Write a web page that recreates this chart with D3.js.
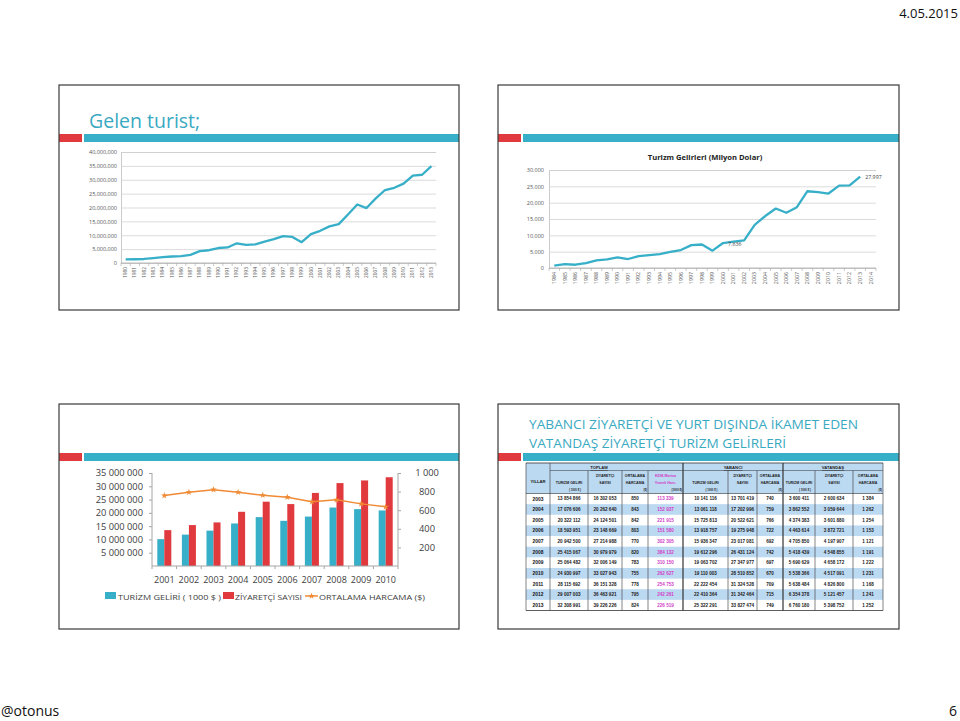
<!DOCTYPE html>
<meta charset="utf-8" />
<head>
  <style>
    body { margin: 0; background: #fff; }
    svg { display: block; font-family: "Open Sans", sans-serif; }
  </style>
  <script src="https://d3js.org/d3.v7.min.js"></script>
</head>
<body>
<svg width="960" height="721"></svg>
<script>
// ---------- data ----------
// gelen turist (kisi)
const gelenYil = ["1980","1981","1982","1983","1984","1985","1986","1987","1988","1989",
  "1990","1991","1992","1993","1994","1995","1996","1997","1998","1999",
  "2000","2001","2002","2003","2004","2005","2006","2007","2008","2009",
  "2010","2011","2012","2013"];
const gelenTurist = [1300000,1350000,1450000,1750000,2100000,2350000,2500000,2950000,4300000,4600000,
  5400000,5600000,7100000,6500000,6700000,7700000,8600000,9700000,9400000,7500000,
  10400000,11600000,13200000,14000000,17500000,21100000,19800000,23300000,26300000,27100000,
  28600000,31500000,31800000,34900000];
const gelenTicks = [0,5000000,10000000,15000000,20000000,25000000,30000000,35000000,40000000];

// turizm gelirleri (milyon dolar)
const gelirYil = ["1984","1985","1986","1987","1988","1989","1990","1991","1992","1993",
  "1994","1995","1996","1997","1998","1999","2000","2001","2002","2003",
  "2004","2005","2006","2007","2008","2009","2010","2011","2012","2013","2014"];
const gelirMilyon = [700,1200,1000,1500,2350,2650,3250,2750,3650,3950,
  4250,4900,5500,7000,7200,5300,7636,8050,8450,13200,
  15900,18200,16900,18600,23500,23200,22800,25200,25300,27997,null];
const gelirTicks = [0,5000,10000,15000,20000,25000,30000];
const gelirEtiket = ["2000","2013"];

// 2001-2010 bar + line
const barYil = ["2001","2002","2003","2004","2005","2006","2007","2008","2009","2010"];
const barGelir = [10100000,11800000,13300000,16000000,18400000,17000000,18600000,22000000,21400000,20900000];
const barZiyaretci = [13500000,15400000,16400000,20400000,24200000,23300000,27500000,31200000,32200000,33400000];
const barHarcama = [757,793,821,793,761,740,690,711,668,636];
const barSolTicks = [5000000,10000000,15000000,20000000,25000000,30000000,35000000];
const barSagTicks = [200,400,600,800,1000];
const barSeri = ["TURİZM GELİRİ ( 1000 $ )","ZİYARETÇİ SAYISI","ORTALAMA HARCAMA ($)"];

// tablo
const tabloYil = ["2003","2004","2005","2006","2007","2008","2009","2010","2011","2012","2013"];
const toplamGelir = [13854866,17076606,20322112,18593951,20942500,25415067,25064482,24930997,28115692,29007003,32308991];
const toplamZiyaretci = [16302053,20262640,24124501,23148669,27214988,30979979,32006149,33027943,36151328,36463921,39226226];
const toplamHarcama = [850,843,842,803,770,820,783,755,778,795,824];
const marinaHarcama = [113339,152937,221915,151580,302305,384132,310150,262627,254753,242261,226519];
const yabanciGelir = [10141116,13061118,15725813,13918757,15936347,19612296,19063702,19110003,22222454,22410364,25322291];
const yabanciZiyaretci = [13701419,17202996,20522621,19275948,23017081,26431124,27347977,28510852,31324528,31342464,33827474];
const yabanciHarcama = [740,759,766,722,692,742,697,670,709,715,749];
const vatandasGelir = [3600411,3862552,4374383,4463614,4705850,5418439,5690629,5538366,5638484,6354378,6760180];
const vatandasZiyaretci = [2600634,3059644,3601880,3872721,4197907,4548855,4658172,4517091,4826800,5121457,5398752];
const vatandasHarcama = [1384,1262,1254,1153,1121,1191,1222,1231,1168,1241,1252];
const tabloGruplar = ["TOPLAM","YABANCI","VATANDAŞ"];

// ---------- helpers ----------
const RED = "#e0393e", TEAL = "#37afc8", TITLE = "#3aa9c2", ORANGE = "#f08a34";
const dotFmt = d3.formatLocale({decimal: ",", thousands: ".", grouping: [3], currency: ["", ""]}).format(",");
const spFmt = d3.formatLocale({decimal: ",", thousands: " ", grouping: [3], currency: ["", ""]}).format(",");
const comFmt = d3.format(",");

const svg = d3.select("svg");
svg.append("rect").attr("width", 960).attr("height", 721).attr("fill", "#fff");

// page texts
svg.append("text").attr("x", 958).attr("y", 18).attr("text-anchor", "end")
  .attr("font-size", 13).attr("fill", "#111").text("4.05.2015");
svg.append("text").attr("x", 1).attr("y", 716)
  .attr("font-size", 14).attr("fill", "#111").text("@otonus");
svg.append("text").attr("x", 957).attr("y", 716).attr("text-anchor", "end")
  .attr("font-size", 14).attr("fill", "#111").text("6");

// slides
const slides = [
  {x: 59, y: 85, w: 400, h: 225},
  {x: 498, y: 85, w: 401, h: 225},
  {x: 59, y: 404, w: 400, h: 225},
  {x: 498, y: 404, w: 401, h: 225}
];
slides.forEach(function (s) {
  svg.append("rect").attr("x", s.x).attr("y", s.y + 49).attr("width", 23).attr("height", 8).attr("fill", RED);
  svg.append("rect").attr("x", s.x + 25).attr("y", s.y + 49).attr("width", s.w - 25).attr("height", 8).attr("fill", TEAL);
  svg.append("rect").attr("x", s.x).attr("y", s.y).attr("width", s.w).attr("height", s.h)
    .attr("fill", "none").attr("stroke", "#3a3a3a").attr("stroke-width", 1.2);
});

svg.append("text").attr("x", 89).attr("y", 128).attr("font-size", 19.5)
  .attr("fill", TITLE).text("Gelen turist;");

// ---------- chart 1: gelen turist ----------
{
  const x = d3.scaleBand().domain(gelenYil).range([121, 436]);
  const y = d3.scaleLinear().domain([0, 40000000]).range([263, 152]);
  const g = svg.append("g");

  const ya = g.append("g").attr("transform", "translate(121,0)")
    .call(d3.axisLeft(y).tickValues(gelenTicks).tickSize(-315).tickPadding(4).tickFormat(comFmt));
  ya.select(".domain").attr("stroke", "#bdbdbd").attr("stroke-width", 0.8);
  ya.selectAll(".tick line").attr("stroke", "#d2d2d2").attr("stroke-width", 0.8);
  ya.selectAll("text").attr("font-size", 5.5).attr("font-family", "Open Sans").attr("fill", "#555");

  g.append("line").attr("x1", 121).attr("x2", 436).attr("y1", 263).attr("y2", 263)
    .attr("stroke", "#a8a8a8").attr("stroke-width", 0.8);
  g.selectAll("line.tk").data(gelenYil.concat(["end"])).join("line")
    .attr("x1", (d, i) => 121 + i * x.step()).attr("x2", (d, i) => 121 + i * x.step())
    .attr("y1", 263).attr("y2", 266).attr("stroke", "#a8a8a8").attr("stroke-width", 0.6);
  g.selectAll("text.xl").data(gelenYil).join("text")
    .attr("transform", d => "translate(" + (x(d) + x.bandwidth() / 2 + 1.6) + ",267) rotate(-90)")
    .attr("text-anchor", "end").attr("font-size", 4.8).attr("fill", "#555").text(d => d);

  const line = d3.line().x((d, i) => x(gelenYil[i]) + x.bandwidth() / 2).y(d => y(d));
  g.append("path").datum(gelenTurist).attr("d", line).attr("fill", "none")
    .attr("stroke", TEAL).attr("stroke-width", 2.3).attr("stroke-linejoin", "round");
}

// ---------- chart 2: turizm gelirleri ----------
{
  const x = d3.scaleBand().domain(gelirYil).range([549, 876]);
  const y = d3.scaleLinear().domain([0, 30000]).range([268, 170]);
  const g = svg.append("g");

  g.append("text").attr("x", 705).attr("y", 160).attr("text-anchor", "middle")
    .attr("font-size", 7.6).attr("font-weight", "bold").attr("fill", "#222")
    .text("Turizm Gelirleri (Milyon Dolar)");

  const ya = g.append("g").attr("transform", "translate(549,0)")
    .call(d3.axisLeft(y).tickValues(gelirTicks).tickSize(-327).tickPadding(5).tickFormat(dotFmt));
  ya.select(".domain").attr("stroke", "#bdbdbd").attr("stroke-width", 0.8);
  ya.selectAll(".tick line").attr("stroke", "#d2d2d2").attr("stroke-width", 0.8);
  ya.selectAll("text").attr("font-size", 5.5).attr("font-family", "Open Sans").attr("fill", "#555");

  g.append("line").attr("x1", 549).attr("x2", 876).attr("y1", 268).attr("y2", 268)
    .attr("stroke", "#a8a8a8").attr("stroke-width", 0.8);
  g.selectAll("line.tk").data(gelirYil.concat(["end"])).join("line")
    .attr("x1", (d, i) => 549 + i * x.step()).attr("x2", (d, i) => 549 + i * x.step())
    .attr("y1", 268).attr("y2", 271).attr("stroke", "#a8a8a8").attr("stroke-width", 0.6);
  g.selectAll("text.xl").data(gelirYil).join("text")
    .attr("transform", d => "translate(" + (x(d) + x.bandwidth() / 2 + 1.8) + ",272) rotate(-90)")
    .attr("text-anchor", "end").attr("font-size", 5.3).attr("fill", "#555").text(d => d);

  const pts = gelirMilyon.map((v, i) => ({yil: gelirYil[i], v: v}));
  const line = d3.line().defined(d => d.v != null)
    .x(d => x(d.yil) + x.bandwidth() / 2).y(d => y(d.v));
  g.append("path").datum(pts).attr("d", line).attr("fill", "none")
    .attr("stroke", TEAL).attr("stroke-width", 2.3).attr("stroke-linejoin", "round");

  g.selectAll("text.val").data(pts.filter(d => gelirEtiket.includes(d.yil))).join("text")
    .attr("x", d => x(d.yil) + x.bandwidth() / 2 + 5)
    .attr("y", d => y(d.v) + 2.5)
    .attr("font-size", 5.3).attr("fill", "#444").text(d => dotFmt(d.v));
}

// ---------- chart 3: 2001-2010 bars ----------
{
  const x = d3.scaleBand().domain(barYil).range([152, 398]).paddingInner(0.43).paddingOuter(0.215);
  const xi = d3.scaleBand().domain(["gelir", "ziyaretci"]).range([0, x.bandwidth()]);
  const yL = d3.scaleLinear().domain([0, 35000000]).range([566, 473]);
  const yR = d3.scaleLinear().domain([0, 1000]).range([566, 473]);
  const g = svg.append("g");

  // bars
  const rows = barYil.map((yil, i) => ({yil: yil, gelir: barGelir[i], ziyaretci: barZiyaretci[i]}));
  const grp = g.selectAll("g.yr").data(rows).join("g").attr("transform", d => "translate(" + x(d.yil) + ",0)");
  grp.append("rect").attr("x", xi("gelir")).attr("width", xi.bandwidth())
    .attr("y", d => yL(d.gelir)).attr("height", d => 566 - yL(d.gelir)).attr("fill", TEAL);
  grp.append("rect").attr("x", xi("ziyaretci")).attr("width", xi.bandwidth())
    .attr("y", d => yL(d.ziyaretci)).attr("height", d => 566 - yL(d.ziyaretci)).attr("fill", RED);

  // axes
  const al = g.append("g").attr("transform", "translate(152,0)")
    .call(d3.axisLeft(yL).tickValues(barSolTicks).tickSize(3).tickPadding(6).tickFormat(spFmt));
  const ar = g.append("g").attr("transform", "translate(398,0)")
    .call(d3.axisRight(yR).tickValues(barSagTicks).tickSize(3).tickPadding(0).tickFormat(spFmt));
  [al, ar].forEach(function (a) {
    a.select(".domain").attr("stroke", "#a6a6a6").attr("d", "M0,473V566");
    a.selectAll(".tick line").attr("stroke", "#a6a6a6");
    a.selectAll("text").attr("font-size", 9.3).attr("font-family", "Open Sans").attr("fill", "#404040");
  });
  ar.selectAll("text").attr("x", 29).attr("text-anchor", "middle");

  g.append("line").attr("x1", 152).attr("x2", 398).attr("y1", 566).attr("y2", 566).attr("stroke", "#a6a6a6");
  g.selectAll("line.tk").data(barYil.concat(["end"])).join("line")
    .attr("x1", (d, i) => 152 + i * x.step()).attr("x2", (d, i) => 152 + i * x.step())
    .attr("y1", 566).attr("y2", 569).attr("stroke", "#a6a6a6");
  g.selectAll("text.xl").data(barYil).join("text")
    .attr("x", d => x(d) + x.bandwidth() / 2).attr("y", 582.5)
    .attr("text-anchor", "middle").attr("font-size", 9).attr("fill", "#404040").text(d => d);

  // line
  const line = d3.line().x((d, i) => x(barYil[i]) + x.bandwidth() / 2).y(d => yR(d));
  g.append("path").datum(barHarcama).attr("d", line).attr("fill", "none")
    .attr("stroke", ORANGE).attr("stroke-width", 1.5);
  g.selectAll("path.mk").data(barHarcama).join("path")
    .attr("transform", (d, i) => "translate(" + (x(barYil[i]) + x.bandwidth() / 2) + "," + yR(d) + ")")
    .attr("d", d3.symbol(d3.symbolStar, 14)).attr("fill", ORANGE);

  // legend
  const lg = g.append("g").attr("font-size", 8).attr("fill", "#404040");
  lg.append("rect").attr("x", 105).attr("y", 592).attr("width", 11).attr("height", 7).attr("fill", TEAL);
  lg.append("text").attr("x", 118).attr("y", 599.5).attr("textLength", 103)
    .attr("lengthAdjust", "spacingAndGlyphs").text(barSeri[0]);
  lg.append("rect").attr("x", 223).attr("y", 592).attr("width", 11).attr("height", 7).attr("fill", RED);
  lg.append("text").attr("x", 235).attr("y", 599.5).attr("textLength", 67)
    .attr("lengthAdjust", "spacingAndGlyphs").text(barSeri[1]);
  lg.append("line").attr("x1", 305).attr("x2", 318).attr("y1", 596).attr("y2", 596)
    .attr("stroke", ORANGE).attr("stroke-width", 1.5);
  lg.append("path").attr("transform", "translate(311.5,596)").attr("d", d3.symbol(d3.symbolStar, 14)).attr("fill", ORANGE);
  lg.append("text").attr("x", 319).attr("y", 599.5).attr("textLength", 106)
    .attr("lengthAdjust", "spacingAndGlyphs").text(barSeri[2]);
}

// ---------- slide 4: table ----------
{
  svg.append("text").attr("x", 529).attr("y", 429).attr("font-size", 13).attr("fill", TITLE)
    .attr("textLength", 329).attr("lengthAdjust", "spacingAndGlyphs")
    .text("YABANCI ZİYARETÇİ VE YURT DIŞINDA İKAMET EDEN");
  svg.append("text").attr("x", 529).attr("y", 448).attr("font-size", 13).attr("fill", TITLE)
    .attr("textLength", 257).attr("lengthAdjust", "spacingAndGlyphs")
    .text("VATANDAŞ ZİYARETÇİ TURİZM GELİRLERİ");

  const edges = [526, 550, 588, 622, 648, 683, 728, 757, 783, 815, 853, 883];
  const top = 463, hb = 493.5, bottom = 610.5;
  const y = d3.scaleBand().domain(tabloYil).range([hb, bottom]);
  const cols = [toplamGelir, toplamZiyaretci, toplamHarcama, marinaHarcama,
    yabanciGelir, yabanciZiyaretci, yabanciHarcama,
    vatandasGelir, vatandasZiyaretci, vatandasHarcama];
  const g = svg.append("g").attr("font-family", "'Liberation Sans', Arial, sans-serif").attr("font-weight", "bold");
  const STRIPE = "#bcd9f2";

  g.append("rect").attr("x", edges[0]).attr("y", top).attr("width", edges[11] - edges[0])
    .attr("height", hb - top).attr("fill", STRIPE);
  g.selectAll("rect.st").data(tabloYil.filter((d, i) => i % 2 === 1)).join("rect")
    .attr("x", edges[0]).attr("width", edges[11] - edges[0])
    .attr("y", d => y(d)).attr("height", y.bandwidth()).attr("fill", STRIPE);

  // lines
  const ln = (x1, y1, x2, y2, w) => g.append("line").attr("x1", x1).attr("y1", y1).attr("x2", x2).attr("y2", y2)
    .attr("stroke", "#333").attr("stroke-width", w || 0.6);
  edges.forEach(function (e, i) {
    const groupEdge = [0, 1, 5, 8, 11].includes(i);
    ln(e, groupEdge ? top : 470.5, e, bottom, (i === 5 || i === 8) ? 1.2 : 0.6);
  });
  ln(edges[0], top, edges[11], top, 0.8);
  ln(edges[1], 470.5, edges[11], 470.5, 0.5);
  ln(edges[0], hb, edges[11], hb, 0.6);
  ln(edges[0], bottom, edges[11], bottom, 0.8);

  const cx = i => (edges[i] + edges[i + 1]) / 2;
  const groupSpans = [[1, 4], [5, 8], [8, 11]];
  tabloGruplar.forEach(function (t, k) {
    const c = (edges[groupSpans[k][0]] + edges[groupSpans[k][1]]) / 2;
    g.append("text").attr("x", c).attr("y", 469).attr("text-anchor", "middle")
      .attr("font-size", 4.2).attr("fill", "#222").attr("text-decoration", "underline").text(t);
  });
  g.append("text").attr("x", cx(0)).attr("y", 483).attr("text-anchor", "middle")
    .attr("font-size", 4.2).attr("fill", "#222").text("YILLAR");

  const head = function (i, lines, color) {
    lines.forEach(function (l, k) {
      g.append("text").attr("x", cx(i)).attr("y", 477 + k * 6.5).attr("text-anchor", "middle")
        .attr("font-size", 3.6).attr("fill", color || "#222").text(l);
    });
  };
  const unit = function (i, t, anchor, color) {
    g.append("text").attr("x", anchor === "end" ? edges[i + 1] - 1 : cx(i) + 6).attr("y", 491)
      .attr("text-anchor", anchor).attr("font-size", 2.8).attr("fill", color || "#222").text(t);
  };
  [1, 5, 8].forEach(function (i) {
    g.append("text").attr("x", cx(i)).attr("y", 483.5).attr("text-anchor", "middle")
      .attr("font-size", 3.6).attr("fill", "#222").text("TURİZM GELİRİ");
    unit(i, "( 1000 $ )", "middle");
  });
  [2, 6, 9].forEach(i => head(i, ["ZİYARETÇİ", "SAYISI"]));
  [3, 7, 10].forEach(function (i) { head(i, ["ORTALAMA", "HARCAMA"]); unit(i, "($)", "end"); });
  head(4, ["KDM-Marina", "Yemek Harc."], "#d23cc8");
  unit(4, "(1000 $)", "end");

  // body
  const body = g.append("g").attr("font-size", 4.6);
  body.selectAll("text.yr").data(tabloYil).join("text")
    .attr("x", cx(0)).attr("y", d => y(d) + y.bandwidth() / 2 + 1.7)
    .attr("text-anchor", "middle").attr("font-size", 4.9).attr("fill", "#111").text(d => d);
  cols.forEach(function (col, c) {
    body.selectAll("text.c" + c).data(col).join("text")
      .attr("x", cx(c + 1)).attr("y", (d, i) => y(tabloYil[i]) + y.bandwidth() / 2 + 1.6)
      .attr("text-anchor", "middle").attr("fill", c === 3 ? "#d23cc8" : "#222")
      .text(d => spFmt(d));
  });
}
</script>
</body>
